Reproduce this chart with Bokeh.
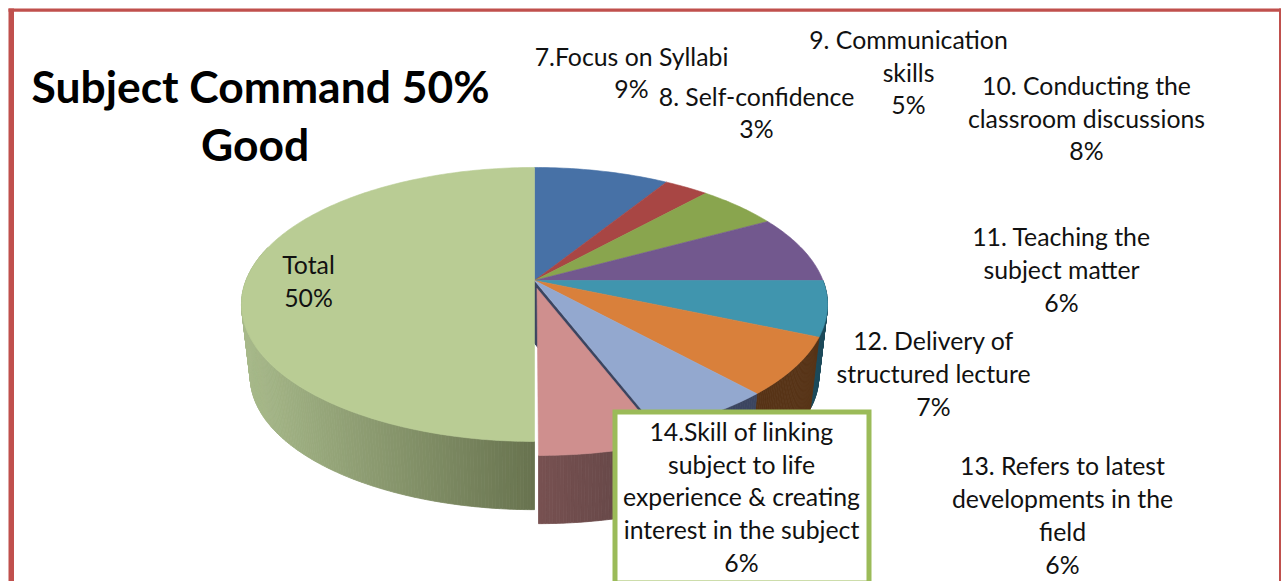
from math import radians, sin, cos
import numpy as np
from bokeh.plotting import figure
from bokeh.models import Range1d
from bokeh.embed import file_html
from bokeh.resources import INLINE
from bokeh.core.properties import value

# ---- data ----
title_lines = ["Subject Command 50%", "Good"]
categories = [
    ["7.Focus on Syllabi"],
    ["8. Self-confidence"],
    ["9. Communication", "skills"],
    ["10. Conducting the", "classroom discussions"],
    ["11. Teaching the", "subject matter"],
    ["12. Delivery of", "structured lecture"],
    ["13. Refers to latest", "developments in the", "field"],
    ["14.Skill of linking", "subject to life", "experience & creating", "interest in the subject"],
    ["Total"],
]
shares = [8.8, 2.9, 5.3, 8.0, 6.5, 6.8, 5.9, 5.8, 50.0]
shown = [9, 3, 5, 8, 6, 7, 6, 6, 50]
colors = ["#4771a6", "#a84644", "#89a54e", "#72588e", "#4095ae", "#d9803b", "#93a8cf", "#cf8f8e", "#b9cc94"]
walls = {4: ("#1d4a5a", "#1d4a5a"), 5: ("#573317", "#573317"), 6: ("#3b4560", "#3b4560"),
         7: ("#775151", "#5f4444"), 8: ("#a7b98a", "#68734f")}
label_centers = [(631, 56), (756, 96), (908, 39), (1086, 85), (1061, 236),
                 (933, 340), (1062, 465), (741, 431), (308, 264)]
line_gaps = [32, 32, 32.5, 32.5, 33, 33, 33, 32.7, 33]

# ---- layout of the page, in page pixels ----
W, H = 1281, 581
CX, CY = 534.0, 280.0
A, B, K = 288.5, 132.8, 0.175
DEPTH, SHRINK = 73.0, 0.97


def rim(deg, dx=0.0, dy=0.0, scale=1.0, drop=0.0):
    t = radians(deg)
    u, v = sin(t), cos(t)
    den = 1 + K * v
    return CX + dx + scale * A * u / den, CY + dy + drop - scale * B * v / den


def hex2rgb(h):
    return np.array([int(h[i:i + 2], 16) for i in (1, 3, 5)], dtype=float)


def mix(c0, c1, f):
    r = hex2rgb(c0) * (1 - f) + hex2rgb(c1) * f
    return "#%02x%02x%02x" % tuple(int(round(x)) for x in r)


p = figure(width=W, height=H, output_backend="svg", toolbar_location=None,
           x_range=Range1d(0, W), y_range=Range1d(H, 0), min_border=0,
           background_fill_color="white", border_fill_color="white", outline_line_color=None)
p.axis.visible = False
p.grid.visible = False

cum = np.concatenate([[0], np.cumsum(shares)]) * 3.6
PINK = 7
P_DX, P_DY = 4.0, 14.0
P_ADX, P_ADY = 2.5, 8.0
P_PAD = 0.6


def wall(i):
    a0, a1 = cum[i], cum[i + 1]
    if i == 8:
        a1 = 285.0
    dx, dy = (P_DX, P_DY) if i == PINK else (0, 0)
    if i == PINK:
        a0 -= P_PAD
    angles = np.linspace(a0, a1, max(int((a1 - a0) / 0.6) + 2, 3))
    xs, ys, cs = [], [], []
    pts = [rim(a, dx, dy) for a in angles]
    xmin, xmax = min(q[0] for q in pts), max(q[0] for q in pts)
    c_left, c_right = walls[i]
    for k in range(len(angles) - 1):
        t0, t1 = pts[k], pts[k + 1]
        b0 = rim(angles[k], dx, dy, SHRINK, DEPTH)
        b1 = rim(angles[k + 1], dx, dy, SHRINK, DEPTH)
        xs.append([t0[0], t1[0], b1[0], b0[0]])
        ys.append([t0[1], t1[1], b1[1], b0[1]])
        cs.append(mix(c_left, c_right, ((t0[0] + t1[0]) / 2 - xmin) / max(xmax - xmin, 1)))
    p.patches(xs, ys, fill_color=cs, line_color=cs, line_width=0.8)


for i in (4, 5, 6):
    wall(i)
e = rim(cum[PINK])
eb = rim(cum[PINK], 0, 0, SHRINK, DEPTH)
p.patch([CX - 0.5, e[0], eb[0], CX - 0.5], [CY, e[1], eb[1], CY + 62],
        fill_color=walls[6][0], line_color=walls[6][0])
wall(PINK)
wall(8)

for i in range(len(shares)):
    a0, a1 = cum[i], cum[i + 1]
    if i == PINK:
        a0 -= P_PAD
    angles = np.linspace(a0, a1, int((a1 - a0) / 1.0) + 3)
    dx, dy = (P_DX, P_DY) if i == PINK else (0, 0)
    ax, ay = (CX + P_ADX, CY + P_ADY) if i == PINK else (CX, CY)
    pts = [rim(a, dx, dy) for a in angles]
    p.patch([ax] + [q[0] for q in pts], [ay] + [q[1] for q in pts],
            fill_color=colors[i], line_color=colors[i], line_width=0.6)

p.quad(left=[614.5], right=[868.5], top=[411.5], bottom=[582.5], fill_color="white",
       line_color="#9bbb59", line_width=5, line_join="miter")

p.quad(left=[8, 8, 1278.5], right=[13.5, 1281, 1281], top=[8, 8, 8], bottom=[581, 11.3, 581],
       fill_color="#c0504d", line_color=None)

font = value("Lato")
tx, ty, tt = [], [], []
for lines, pct, (x, y), gap in zip(categories, shown, label_centers, line_gaps):
    for j, s in enumerate(lines + [f"{pct}%"]):
        tx.append(x)
        ty.append(y + j * gap)
        tt.append(s)
p.text(tx, ty, text=tt, text_font=font, text_font_size="24.8px", text_color="#111111",
       text_align="center", text_baseline="middle")
p.text([260, 254.5], [85, 143], text=title_lines, text_font=font, text_font_size="44.4px",
       text_font_style="bold", text_color="black", text_align="center", text_baseline="middle")

open("out.html", "w").write(file_html(p, INLINE))
